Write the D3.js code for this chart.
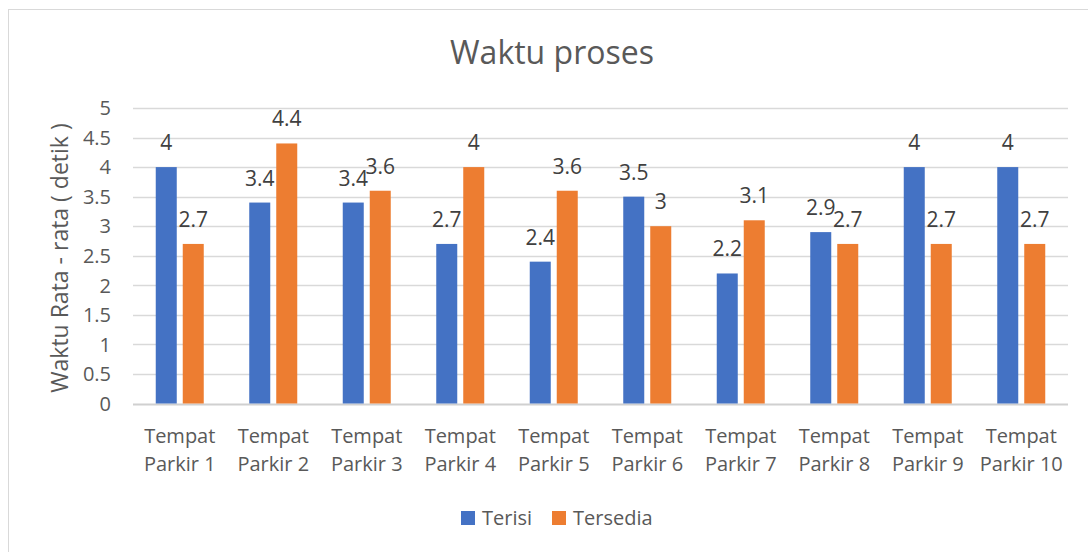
<!DOCTYPE html>
<html>
<head>
<meta charset="utf-8">
<script src="https://cdn.jsdelivr.net/npm/d3@7"></script>
<style>
  body { margin: 0; background: #fff; }
  svg { font-family: "Open Sans", Lato, sans-serif; }
</style>
</head>
<body>
<svg width="1088" height="552"></svg>
<script>
const categories = ["Tempat Parkir 1", "Tempat Parkir 2", "Tempat Parkir 3", "Tempat Parkir 4", "Tempat Parkir 5",
  "Tempat Parkir 6", "Tempat Parkir 7", "Tempat Parkir 8", "Tempat Parkir 9", "Tempat Parkir 10"];
const seriesNames = ["Terisi", "Tersedia"];
const terisi = [4, 3.4, 3.4, 2.7, 2.4, 3.5, 2.2, 2.9, 4, 4];
const tersedia = [2.7, 4.4, 3.6, 4, 3.6, 3, 3.1, 2.7, 2.7, 2.7];
const yTicks = [0, 0.5, 1, 1.5, 2, 2.5, 3, 3.5, 4, 4.5, 5];
const colors = ["#4472C4", "#ED7D31"];

const svg = d3.select("svg");
const width = +svg.attr("width");
const height = +svg.attr("height");

// chart frame (right/bottom edges fall outside the picture)
svg.append("rect")
  .attr("x", 8.5).attr("y", 9.5)
  .attr("width", 1200).attr("height", 700)
  .attr("fill", "#fff").attr("stroke", "#d9d9d9");

const plotLeft = 133, plotRight = 1068, plotTop = 108, plotBottom = 403.5;

const x0 = d3.scaleBand().domain(categories).range([plotLeft, plotRight]);
const x1 = d3.scaleBand().domain(seriesNames)
  .range([x0.bandwidth() / 2 - 24, x0.bandwidth() / 2 + 24])
  .paddingInner(0.222);
const y = d3.scaleLinear().domain([0, 5]).range([plotBottom, plotTop]);

// gridlines
svg.append("g")
  .selectAll("line")
  .data(yTicks)
  .enter()
  .append("line")
  .attr("x1", plotLeft).attr("x2", plotRight)
  .attr("y1", d => Math.round(y(d)) + 0.5)
  .attr("y2", d => Math.round(y(d)) + 0.5)
  .attr("stroke", d => d === 0 ? "#d0d0d0" : "#d9d9d9")
  .attr("stroke-width", d => d === 0 ? 2 : 1.5);

// y tick labels
svg.append("g")
  .selectAll("text")
  .data(yTicks)
  .enter()
  .append("text")
  .attr("x", 111)
  .attr("y", d => y(d))
  .attr("dy", "0.36em")
  .attr("text-anchor", "end")
  .attr("font-size", 20)
  .attr("fill", "#595959")
  .text(d => d);

// x labels (two lines)
const xl = svg.append("g")
  .selectAll("text")
  .data(categories)
  .enter()
  .append("text")
  .attr("text-anchor", "middle")
  .attr("font-size", 20)
  .attr("fill", "#595959");
xl.append("tspan")
  .attr("x", d => x0(d) + x0.bandwidth() / 2)
  .attr("y", 443)
  .text(d => d.split(" ").slice(0, 1).join(" "));
xl.append("tspan")
  .attr("x", d => x0(d) + x0.bandwidth() / 2)
  .attr("y", 471)
  .text(d => d.split(" ").slice(1).join(" "));

// bars
const rows = categories.map((c, i) => ({ cat: c, vals: [terisi[i], tersedia[i]] }));
const groups = svg.append("g")
  .selectAll("g")
  .data(rows)
  .enter()
  .append("g")
  .attr("transform", d => `translate(${x0(d.cat)},0)`);

groups.selectAll("rect")
  .data(d => d.vals.map((v, j) => ({ s: seriesNames[j], v, j })))
  .enter()
  .append("rect")
  .attr("x", d => x1(d.s))
  .attr("width", x1.bandwidth())
  .attr("y", d => y(d.v))
  .attr("height", d => y(0) - y(d.v))
  .attr("fill", d => colors[d.j]);

groups.selectAll("text")
  .data(d => d.vals.map((v, j) => ({ s: seriesNames[j], v, j })))
  .enter()
  .append("text")
  .attr("x", d => x1(d.s) + x1.bandwidth() / 2)
  .attr("y", d => y(d.v) - 17)
  .attr("text-anchor", "middle")
  .attr("font-size", 21)
  .attr("fill", "#404040")
  .text(d => d.v);

// title
svg.append("text")
  .attr("x", 552).attr("y", 64)
  .attr("text-anchor", "middle")
  .attr("font-size", 32)
  .attr("fill", "#595959")
  .text("Waktu proses");

// y axis title
svg.append("text")
  .attr("transform", "translate(68,258) rotate(-90)")
  .attr("text-anchor", "middle")
  .attr("font-size", 23)
  .attr("fill", "#595959")
  .text("Waktu Rata - rata ( detik )");

// legend
const legendX = [461, 552];
const legend = svg.append("g")
  .selectAll("g")
  .data(seriesNames)
  .enter()
  .append("g")
  .attr("transform", (d, i) => `translate(${legendX[i]},511)`);
legend.append("rect")
  .attr("width", 14).attr("height", 14)
  .attr("fill", (d, i) => colors[i]);
legend.append("text")
  .attr("x", 21).attr("y", 7)
  .attr("dy", "0.36em")
  .attr("font-size", 20)
  .attr("fill", "#595959")
  .text(d => d);
</script>
</body>
</html>
